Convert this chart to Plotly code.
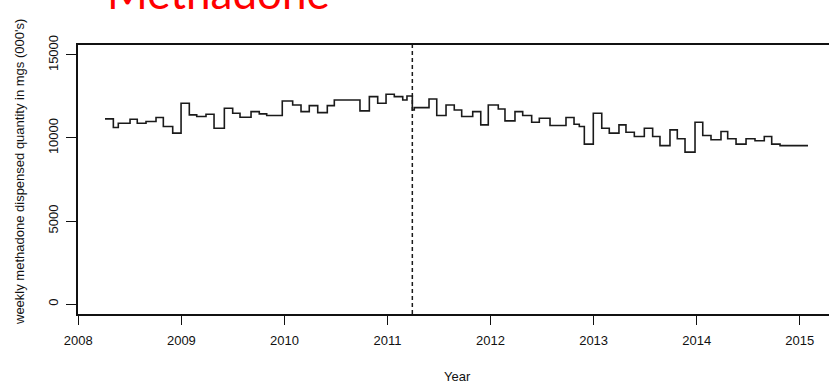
import plotly.graph_objects as go

# Weekly methadone dispensed quantity (mgs, 000's): level changes by date (decimal year)
step_start = [
    2008.259, 2008.340, 2008.388, 2008.502, 2008.572, 2008.657, 2008.754, 2008.825, 2008.916, 2008.997,
    2009.077, 2009.149, 2009.239, 2009.317, 2009.417, 2009.498, 2009.569, 2009.676, 2009.756, 2009.828,
    2009.979, 2010.080, 2010.161, 2010.241, 2010.323, 2010.416, 2010.484, 2010.733, 2010.824, 2010.905,
    2010.986, 2011.066, 2011.148, 2011.189, 2011.241, 2011.260, 2011.403, 2011.478, 2011.568, 2011.648,
    2011.720, 2011.827, 2011.905, 2011.978, 2012.075, 2012.140, 2012.237, 2012.312, 2012.399, 2012.473,
    2012.577, 2012.732, 2012.810, 2012.861, 2012.910, 2012.997, 2013.079, 2013.152, 2013.246, 2013.314,
    2013.395, 2013.492, 2013.573, 2013.644, 2013.741, 2013.812, 2013.887, 2013.984, 2014.059, 2014.139,
    2014.236, 2014.301, 2014.382, 2014.479, 2014.566, 2014.656, 2014.728, 2014.809,
]
step_level = [
    11150, 10630, 10890, 11130, 10890, 10990, 11230, 10690, 10290, 12090,
    11390, 11290, 11430, 10590, 11790, 11490, 11250, 11590, 11450, 11350,
    12230, 11990, 11590, 11950, 11530, 11950, 12290, 11630, 12490, 12090,
    12630, 12490, 12290, 12530, 11690, 11830, 12350, 11350, 11990, 11690,
    11290, 11590, 10790, 11990, 11750, 11030, 11590, 11350, 10950, 11190,
    10750, 11230, 10830, 10690, 9630, 11490, 10590, 10290, 10790, 10350,
    10090, 10590, 10090, 9540, 10490, 9950, 9150, 10950, 10150, 9890,
    10390, 9950, 9630, 9950, 9830, 10090, 9630, 9540,
]
series_end = 2015.080
intervention_year = 2011.241

year_ticks = [2008, 2009, 2010, 2011, 2012, 2013, 2014, 2015]
qty_ticks = [0, 5000, 10000, 15000]

x_vals = step_start + [series_end]
y_vals = step_level + [step_level[-1]]

axis_font = dict(family="Liberation Sans, Arial, sans-serif", size=13, color="#111")

fig = go.Figure()
fig.add_trace(go.Scatter(
    x=x_vals, y=y_vals, mode="lines", line_shape="hv",
    line=dict(color="#1a1a1a", width=1.6), showlegend=False, hoverinfo="skip",
))
fig.add_vline(x=intervention_year, line=dict(color="#1a1a1a", width=1.5, dash="4px,3px"))

fig.update_layout(
    width=829, height=384,
    margin=dict(l=78, r=0, t=45, b=70),
    paper_bgcolor="white", plot_bgcolor="white",
    xaxis=dict(
        range=[2007.997, 2015.284], tickvals=year_ticks, ticktext=[str(v) for v in year_ticks],
        showline=True, linecolor="#111", linewidth=1.5, mirror=True,
        ticks="outside", ticklen=9, tickwidth=1.3, tickcolor="#111",
        showgrid=False, zeroline=False, tickfont=axis_font, ticklabelstandoff=5,
    ),
    yaxis=dict(
        range=[-600, 15600], tickvals=qty_ticks, ticktext=[str(v) for v in qty_ticks],
        showline=True, linecolor="#111", linewidth=1.5, mirror=False,
        ticks="outside", ticklen=10, tickwidth=1.3, tickcolor="#111",
        showgrid=False, zeroline=False, tickangle=-90, tickfont=axis_font, ticklabelstandoff=3,
    ),
    annotations=[
        dict(text="Methadone", xref="paper", yref="paper", x=(105 - 78) / 751, y=(314 - 20) / 269,
             xanchor="left", yanchor="bottom", showarrow=False,
             font=dict(family="Lato, sans-serif", size=44, color="#ff0000")),
        dict(text="Year", xref="paper", yref="paper", x=(457 - 78) / 751, y=(314 - 376) / 269,
             xanchor="center", yanchor="middle", showarrow=False, font=axis_font),
        dict(text="weekly methadone dispensed quantity in mgs (000's)", xref="paper", yref="paper",
             x=(19 - 78) / 751, y=(314 - 172) / 269, xanchor="center", yanchor="middle",
             textangle=-90, showarrow=False, font=axis_font),
    ],
)

fig.write_html("out.html")
